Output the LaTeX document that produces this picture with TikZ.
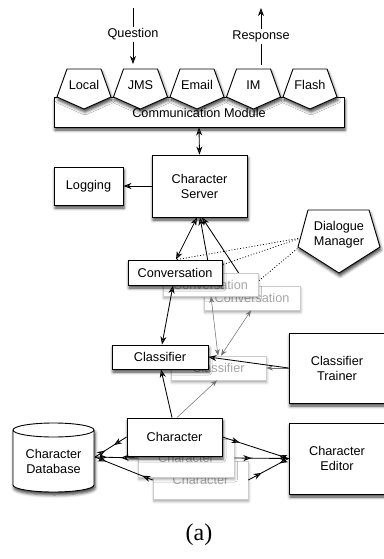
\documentclass[tikz,border=0pt]{standalone}
\usepackage{fontspec}
\setmainfont{Liberation Sans}
\newfontfamily\capfont{Liberation Serif}
\usetikzlibrary{arrows.meta,shadows.blur,decorations.markings}
\begin{document}
\begin{tikzpicture}[x=1pt,y=-1pt,
  font=\fontsize{12.7}{15}\selectfont,
  >={Stealth[length=8pt,width=6pt,inset=2.5pt]},
  sh/.style={blur shadow={shadow xshift=1pt,shadow yshift=-3pt,shadow blur radius=3pt,shadow opacity=75}},
  lsh/.style={blur shadow={shadow xshift=0.8pt,shadow yshift=-2.5pt,shadow blur radius=2.5pt,shadow opacity=35}},
  box/.style={draw=black,line width=0.9pt,fill=white,sh,align=center,inner sep=0pt},
  gbox/.style={draw=black!20,line width=0.7pt,fill=white,lsh,text=black!35,align=center,inner sep=0pt},
  shapefive/.style={draw=black,line width=0.9pt,fill=white,sh,line join=miter},
  lbl/.style={inner sep=0pt,align=center},
  arr/.style={line width=0.85pt,->},
  darr/.style={line width=0.85pt,<->},
  garr/.style={draw=black!55,line width=0.55pt,<->,>={Stealth[length=6.5pt,width=5pt,inset=2pt]}},
  garrone/.style={draw=black!55,line width=0.55pt,->,>={Stealth[length=6.5pt,width=5pt,inset=2pt]}},
  dotline/.style={line width=0.8pt,dash pattern=on 0.9pt off 2pt},
  dbl/.style 2 args={line width=0.85pt,postaction={decorate},decoration={markings,
     mark=at position #1 with {\arrow{>}},
     mark=at position #2 with {\arrowreversed{>}}}},
]
\useasboundingbox (0,0) rectangle (383,559);

% communication module
\node[box,minimum width=290pt,minimum height=30pt] (comm) at (199,112) {};
\foreach \cx/\nm/\tx in {84/local/Local,140.5/jms/JMS,197/email/Email,253.5/im/IM,310/flash/Flash}{
  \draw[shapefive] (\cx-17,69) -- (\cx+17,69) -- (\cx+27,97) -- (\cx,109) -- (\cx-27,97) -- cycle;
  \node[lbl] (\nm) at (\cx,85) {\tx};
}
\node[lbl] (commtext) at (199,113) {Communication Module};

\coordinate (qs) at (133,8);
\coordinate (qe) at (133,64);
\draw[arr] (qs) -- node[fill=white,inner sep=1.5pt,pos=0.47] (qlab) {Question} (qe);
\coordinate (rs) at (261,65);
\coordinate (re) at (261,8);
\draw[arr] (rs) -- node[fill=white,inner sep=1.5pt,pos=0.5] (rlab) {Response} (re);

% server and logging
\node[box,minimum width=95pt,minimum height=62pt] (server) at (199.5,186) {Character\\Server};
\node[box,minimum width=69pt,minimum height=38pt] (logging) at (88.5,186) {Logging};
\draw[darr] (comm.south) -- (server.north);
\draw[arr] (server.west) -- (logging.east);

\coordinate (dmA) at (301,238);
\coordinate (dmB) at (304,243);

% conversations (back to front)
\node[gbox,minimum width=96pt,minimum height=24pt] (convC) at (252,298) {Conversation};
\draw[darr] ([xshift=2.5pt]server.south) -- ([xshift=-5pt]convC.north);
\draw[dotline] (dmB) -- ([xshift=1pt]convC.north);
\node[gbox,minimum width=95pt,minimum height=23pt] (convB) at (210.5,284.5) {Conversation};
\draw[darr] ([xshift=0.5pt]server.south) -- ([xshift=-0.5pt]convB.north);
\draw[dotline] (dmA) -- ([xshift=-11.5pt]convB.north);
\node[box,minimum width=94pt,minimum height=25pt] (convA) at (175,272.5) {Conversation};
\draw[darr] ([xshift=1pt]convA.north) -- ([xshift=-2.5pt]server.south);
\draw[dotline] (dmA) -- ([xshift=2pt]convA.north);

% dialogue manager
\draw[shapefive] (308,210) -- (369,210) -- (380,247) -- (339,273) -- (298,247) -- cycle;
\node[lbl] (dm) at (339,235) {Dialogue\\Manager};

% classifiers
\node[gbox,minimum width=95pt,minimum height=24pt] (classB) at (218.5,368) {Classifier};
\node[box,minimum width=96pt,minimum height=24pt] (classA) at (160,357) {Classifier};
\draw[garr] ([xshift=0.5pt]convB.south) -- ([xshift=-0.5pt]classB.north);
\draw[garr] ([xshift=-1pt]convC.south) -- ([xshift=2.5pt]classB.north);
\draw[darr] ([xshift=-2pt]convA.south) -- ([xshift=2pt]classA.north);

% trainer
\node[box,minimum width=96pt,minimum height=70pt] (trainer) at (337,368) {Classifier\\Trainer};
\draw[garrone] (trainer.west) -- (classB.east);
\draw[arr] (trainer.west) -- (classA.east);

% characters
\node[gbox,minimum width=95pt,minimum height=38pt] (charC) at (200.5,480) {Character};
\node[gbox,minimum width=96pt,minimum height=38pt] (charB) at (186,458) {Character};
\node[box,minimum width=95pt,minimum height=38pt] (charA) at (174.5,437) {Character};
\draw[garrone] ([xshift=2.5pt]charA.north) -- ([xshift=-1.5pt]classB.south);
\draw[arr] ([xshift=-2.5pt]charA.north) -- ([xshift=1pt]classA.south);

% database
\draw[shapefive] (13,430) -- (13,485) arc[start angle=180,end angle=360,x radius=40.5pt,y radius=7pt]
  -- (94,430) arc[start angle=0,end angle=180,x radius=40.5pt,y radius=7pt] -- cycle;
\draw[line width=0.9pt] (13,430) arc[start angle=180,end angle=360,x radius=40.5pt,y radius=7pt];
\node[lbl] (db) at (53.5,461) {Character\\Database};

% editor
\node[box,minimum width=96pt,minimum height=71pt] (editor) at (337,458.5) {Character\\Editor};

\coordinate (dbR) at (95,457);
\draw[dbl={12pt}{-15pt}] (dbR) -- (charA.west);
\draw[dbl={12pt}{-17pt}] (dbR) -- (charB.west);
\draw[dbl={12pt}{-11pt}] (dbR) -- (charC.west);
\draw[dbl={18pt}{-10pt}] (charA.east) -- (editor.west);
\draw[dbl={17pt}{-10pt}] (charB.east) -- (editor.west);
\draw[dbl={15pt}{-10pt}] (charC.east) -- (editor.west);

\node[font=\capfont\fontsize{24}{28}\selectfont] (cap) at (199,535) {(a)};
\end{tikzpicture}
\end{document}
